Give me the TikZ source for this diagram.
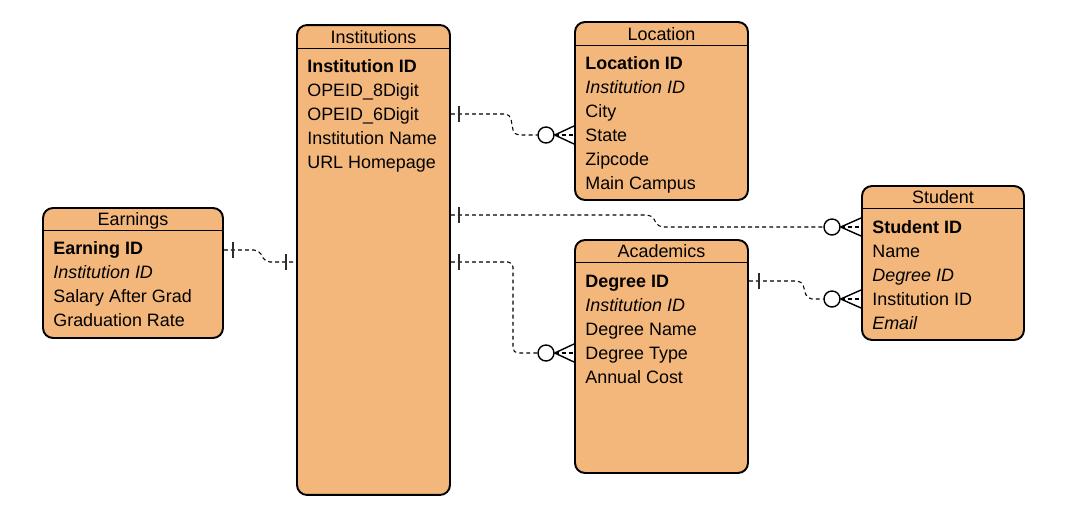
\documentclass[tikz,border=0pt]{standalone}
\usepackage{fontspec}
\setmainfont{Liberation Sans}
\usetikzlibrary{calc}
\definecolor{erfill}{RGB}{243,183,123}
\definecolor{bargray}{RGB}{45,45,45}
\tikzset{
  entity/.style={draw, line width=1.1pt, fill=erfill, rounded corners=0.2cm, inner sep=0pt},
  etitle/.style={inner sep=0pt, text height=0.26cm, text depth=0cm, font=\fontsize{10.2}{12}\selectfont},
  field/.style={anchor=west, inner sep=0pt, text height=0.26cm, text depth=0cm, font=\fontsize{10.2}{12}\selectfont},
  key/.style={field, font=\fontsize{10.2}{12}\selectfont\bfseries},
  fkey/.style={field, font=\fontsize{10.2}{12}\selectfont\itshape},
  rel/.style={dash pattern=on 2.2pt off 1.8pt, line width=0.6pt, rounded corners=0.1cm},
  onebar/.style={line width=0.9pt, draw=bargray},
  zerocirc/.style={circle, draw, line width=0.8pt, fill=white, minimum size=0.32cm, inner sep=0pt},
  crow/.style={line width=0.8pt}
}
\begin{document}
\begin{tikzpicture}[x=0.02cm,y=-0.02cm]
\useasboundingbox (0,0) rectangle (1080,527);

% Institutions
\node[entity, minimum width=3.06cm, minimum height=9.4cm] (inst) at (373.5,260) {};
\draw[line width=0.5pt] (inst.west |- 0,48) -- (inst.east |- 0,48);
\node[etitle] (instt) at (373.5,37) {Institutions};
\node[key] (inst1) at (307,66) {Institution ID};
\node[field] (inst2) at (307,90) {OPEID\_8Digit};
\node[field] (inst3) at (307,114) {OPEID\_6Digit};
\node[field] (inst4) at (307,138) {Institution Name};
\node[field] (inst5) at (307,162) {URL Homepage};

% Location
\node[entity, minimum width=3.46cm, minimum height=3.56cm] (loc) at (661.5,111) {};
\draw[line width=0.5pt] (loc.west |- 0,45) -- (loc.east |- 0,45);
\node[etitle] (loct) at (661.5,34) {Location};
\node[key] (loc1) at (585,63) {Location ID};
\node[fkey] (loc2) at (585,87) {Institution ID};
\node[field] (loc3) at (585,111) {City};
\node[field] (loc4) at (585,135) {State};
\node[field] (loc5) at (585,159) {Zipcode};
\node[field] (loc6) at (585,183) {Main Campus};

% Earnings
\node[entity, minimum width=3.6cm, minimum height=2.6cm] (earn) at (133,273) {};
\draw[line width=0.5pt] (earn.west |- 0,230) -- (earn.east |- 0,230);
\node[etitle] (earnt) at (133,219) {Earnings};
\node[key] (earn1) at (53,248) {Earning ID};
\node[fkey] (earn2) at (53,272) {Institution ID};
\node[field] (earn3) at (53,296) {Salary After Grad};
\node[field] (earn4) at (53,320) {Graduation Rate};

% Academics
\node[entity, minimum width=3.46cm, minimum height=4.66cm] (acad) at (661.5,356.5) {};
\draw[line width=0.5pt] (acad.west |- 0,262) -- (acad.east |- 0,262);
\node[etitle] (acadt) at (661.5,251) {Academics};
\node[key] (acad1) at (585,281) {Degree ID};
\node[fkey] (acad2) at (585,305) {Institution ID};
\node[field] (acad3) at (585,329) {Degree Name};
\node[field] (acad4) at (585,353) {Degree Type};
\node[field] (acad5) at (585,377) {Annual Cost};

% Student
\node[entity, minimum width=3.24cm, minimum height=3.08cm] (stud) at (943,263) {};
\draw[line width=0.5pt] (stud.west |- 0,208) -- (stud.east |- 0,208);
\node[etitle] (studt) at (943,197) {Student};
\node[key] (stud1) at (872,227) {Student ID};
\node[field] (stud2) at (872,251) {Name};
\node[fkey] (stud3) at (872,275) {Degree ID};
\node[field] (stud4) at (872,299) {Institution ID};
\node[fkey] (stud5) at (872,323) {Email};

% connector ends
\coordinate (ra) at (inst.east |- 0,114);
\coordinate (rb) at (inst.east |- 0,215);
\coordinate (rc) at (inst.east |- 0,262);
\coordinate (rd) at (earn.east |- 0,250);
\coordinate (re) at (acad.east |- 0,281);
\node[zerocirc] (za) at (546,135) {};
\node[zerocirc] (zb) at (832,227) {};
\node[zerocirc] (zc) at (546,353) {};
\node[zerocirc] (ze) at (832,299) {};

% Institutions - Location
\draw[rel] (ra) -- (510,114) -- (514,135) -- (za);
\draw[onebar] ($(ra)+(8,-8)$) -- ++(0,16);
\draw[crow] (za.east) -- ($(loc.west |- za)+(0,-9)$);
\draw[crow] (za.east) -- ($(loc.west |- za)+(0,9)$);
\draw[rel] (za.east) -- (loc.west |- za);

% Institutions - Student
\draw[rel] (rb) -- (652,215) -- (658,227) -- (zb);
\draw[onebar] ($(rb)+(8,-8)$) -- ++(0,16);
\draw[crow] (zb.east) -- ($(stud.west |- zb)+(0,-9)$);
\draw[crow] (zb.east) -- ($(stud.west |- zb)+(0,9)$);
\draw[rel] (zb.east) -- (stud.west |- zb);

% Institutions - Academics
\draw[rel] (rc) -- (513,262) -- (513,353) -- (zc);
\draw[onebar] ($(rc)+(8,-8)$) -- ++(0,16);
\draw[crow] (zc.east) -- ($(acad.west |- zc)+(0,-9)$);
\draw[crow] (zc.east) -- ($(acad.west |- zc)+(0,9)$);
\draw[rel] (zc.east) -- (acad.west |- zc);

% Earnings - Institutions
\draw[rel] (rd) -- (259,250) -- (265,262) -- (inst.west |- 0,262);
\draw[onebar] ($(rd)+(9,-8)$) -- ++(0,16);
\draw[onebar] ($(inst.west |- 0,262)+(-10,-8)$) -- ++(0,16);

% Academics - Student
\draw[rel] (re) -- (802,281) -- (807,299) -- (ze);
\draw[onebar] ($(re)+(10,-8)$) -- ++(0,16);
\draw[crow] (ze.east) -- ($(stud.west |- ze)+(0,-9)$);
\draw[crow] (ze.east) -- ($(stud.west |- ze)+(0,9)$);
\draw[rel] (ze.east) -- (stud.west |- ze);
\end{tikzpicture}
\end{document}
